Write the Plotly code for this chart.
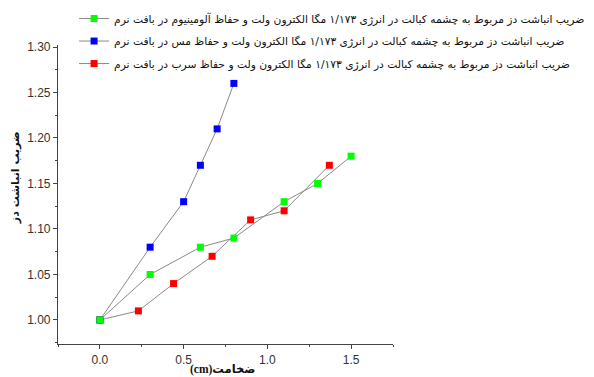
import plotly.graph_objects as go

# Data
names = [
    "ضریب انباشت دز مربوط به چشمه کبالت در انرژی ۱/۱۷۳ مگا الکترون ولت و حفاظ آلومینیوم در بافت نرم",
    "ضریب انباشت دز مربوط به چشمه کبالت در انرژی ۱/۱۷۳ مگا الکترون ولت و حفاظ مس در بافت نرم",
    "ضریب انباشت دز مربوط به چشمه کبالت در انرژی ۱/۱۷۳ مگا الکترون ولت و حفاظ سرب در بافت نرم",
]
al_x = [0.0, 0.30, 0.60, 0.80, 1.10, 1.30, 1.50]
al_y = [1.00, 1.05, 1.08, 1.09, 1.13, 1.15, 1.18]
cu_x = [0.0, 0.30, 0.50, 0.60, 0.70, 0.80]
cu_y = [1.00, 1.08, 1.13, 1.17, 1.21, 1.26]
pb_x = [0.0, 0.23, 0.44, 0.67, 0.90, 1.10, 1.37]
pb_y = [1.00, 1.01, 1.04, 1.07, 1.11, 1.12, 1.17]

x_title = "\u202bضخامت(cm)\u202c"
y_title = "ضریب انباشت دز"

series = [
    (pb_x, pb_y, names[2], "#ff0000", "c", 3),
    (cu_x, cu_y, names[1], "#0000ff", "b", 2),
    (al_x, al_y, names[0], "#00ff00", "a", 1),
]

fig = go.Figure()
for xs, ys, nm, col, grp, rank in series:
    fig.add_trace(go.Scatter(
        x=xs, y=ys, name=nm, mode="lines+markers", legendgroup=grp, legendrank=rank,
        line=dict(color="#8a8a8a", width=1),
        marker=dict(symbol="square", size=7, color=col, line=dict(width=0)),
    ))

axis_common = dict(
    showline=True, linecolor="#444", linewidth=1.2, showgrid=False, zeroline=False,
    ticks="outside", ticklen=4, tickcolor="#444", tickwidth=1,
    tickfont=dict(family="Liberation Sans, Arial", size=12, color="#333"),
    mirror=False, automargin=False,
)

# page body has an 8px margin; figure sized so the visible window matches
fig.update_layout(
    width=586, height=369,
    margin=dict(l=50, r=201, t=37, b=33, autoexpand=False),
    paper_bgcolor="white", plot_bgcolor="white",
    showlegend=True,
    legend=dict(
        x=0.048, y=1.137, xanchor="left", yanchor="top",
        traceorder="grouped", tracegroupgap=3.5,
        bgcolor="rgba(0,0,0,0)", borderwidth=0,
        font=dict(family="DejaVu Sans", size=10.7, color="#111"),
        itemwidth=30,
    ),
    xaxis=dict(
        range=[-0.25, 1.75], tickvals=[0.0, 0.5, 1.0, 1.5], ticktext=["0.0", "0.5", "1.0", "1.5"],
        minor=dict(ticks="outside", ticklen=2, dtick=0.25, tick0=0, tickcolor="#444"),
        **axis_common,
    ),
    yaxis=dict(
        range=[0.9736, 1.3022], tickvals=[1.00, 1.05, 1.10, 1.15, 1.20, 1.25, 1.30],
        ticktext=["1.00", "1.05", "1.10", "1.15", "1.20", "1.25", "1.30"],
        minor=dict(ticks="outside", ticklen=2, dtick=0.025, tick0=1.0, tickcolor="#444"),
        **axis_common,
    ),
    annotations=[
        dict(text=x_title, xref="paper", yref="paper", x=0.49, y=-0.086,
             xanchor="center", yanchor="middle", showarrow=False,
             font=dict(family="Liberation Serif, DejaVu Sans", size=11.5, color="#111", weight="bold")),
        dict(text=y_title, xref="paper", yref="paper", x=-0.128, y=0.555,
             xanchor="center", yanchor="middle", showarrow=False, textangle=-90,
             font=dict(family="DejaVu Sans", size=11, color="#111", weight="bold")),
    ],
)

fig.write_html("out.html")
